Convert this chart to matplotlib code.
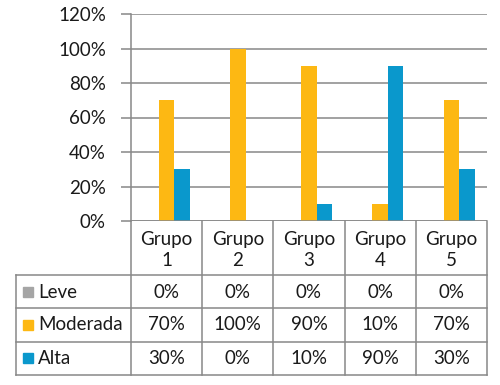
import numpy as np
import matplotlib.pyplot as plt
import matplotlib.transforms as mtransforms

categories = ['Grupo\n1', 'Grupo\n2', 'Grupo\n3', 'Grupo\n4', 'Grupo\n5']
series_names = ['Leve', 'Moderada', 'Alta']
leve = [0.0, 0.0, 0.0, 0.0, 0.0]
moderada = [0.70, 1.00, 0.90, 0.10, 0.70]
alta = [0.30, 0.00, 0.10, 0.90, 0.30]
colors = ['#A5A5A5', '#FDB813', '#0A98CC']
yticks = [0, 0.2, 0.4, 0.6, 0.8, 1.0, 1.2]


def main():
    plt.rcParams['font.family'] = ['Lato', 'DejaVu Sans']
    fs = 13.5
    tc = '#1a1a1a'
    fig = plt.figure(figsize=(5, 3.85), dpi=100)
    W, H = 500, 385
    left, right, top, bottom = 131, 487, 14, 221
    ax = fig.add_axes([left / W, 1 - bottom / H, (right - left) / W, (bottom - top) / H])

    values = [leve, moderada, alta]
    x = np.arange(len(categories))
    width = 0.218
    for i, (vals, col) in enumerate(zip(values, colors)):
        ax.bar(x + (i - 1) * width, vals, width, color=col, zorder=3)

    ax.set_xlim(-0.5, len(categories) - 0.5)
    ax.set_ylim(0, 1.2)
    ax.set_yticks(yticks)
    ax.set_yticklabels([f'{int(round(t * 100))}%' for t in yticks], fontsize=fs, color=tc)
    ax.tick_params(axis='y', length=7, width=1.1, color='#888888', pad=11)
    ax.set_xticks([])
    ax.grid(axis='y', color='#888888', linewidth=1.1, zorder=0)
    for s in ['top', 'right', 'bottom']:
        ax.spines[s].set_visible(False)
    ax.spines['left'].set_color('#888888')
    ax.spines['left'].set_linewidth(1.1)
    ax.axhline(0, color='#888888', linewidth=1.1, zorder=4)

    # data table under the plot
    trans = mtransforms.blended_transform_factory(ax.transData, ax.transAxes)
    ph = bottom - top

    def yfrac(py):
        return (bottom - py) / ph

    table_left = (16 - left) / ((right - left) / len(categories)) - 0.5
    lc = '#888888'
    lw = 1.1
    row_lines = [275, 308, 342, 375]
    for py in row_lines:
        ax.plot([table_left, len(categories) - 0.5], [yfrac(py)] * 2, transform=trans,
                color=lc, lw=lw, clip_on=False)
    for xb in np.arange(-0.5, len(categories), 1.0):
        ax.plot([xb, xb], [0, yfrac(375)], transform=trans, color=lc, lw=lw, clip_on=False)
    ax.plot([table_left, table_left], [yfrac(275), yfrac(375)], transform=trans,
            color=lc, lw=lw, clip_on=False)

    for i, cat in enumerate(categories):
        ax.text(i, yfrac(250), cat, transform=trans, ha='center', va='center',
                fontsize=fs, color=tc, linespacing=1.25)

    row_centers = [292, 325, 358]
    sq = 10 / (right - left) * len(categories)
    for r, (name, vals, col) in enumerate(zip(series_names, values, colors)):
        yc = yfrac(row_centers[r])
        x0 = table_left + 7 / (right - left) * len(categories)
        ax.add_patch(plt.Rectangle((x0, yc - 5 / ph), sq, 10 / ph, transform=trans,
                                   color=col, clip_on=False))
        ax.text(x0 + sq + 0.07, yc, name, transform=trans, ha='left', va='center',
                fontsize=fs, color=tc)
        for i, v in enumerate(vals):
            ax.text(i, yc, f'{int(round(v * 100))}%', transform=trans, ha='center',
                    va='center', fontsize=fs, color=tc)

    fig.savefig('out.png', dpi=100)


if __name__ == '__main__':
    main()
